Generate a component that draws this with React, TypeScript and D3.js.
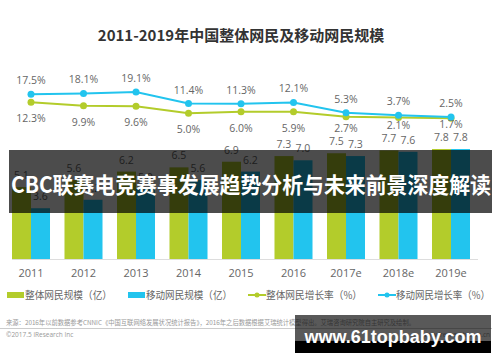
import React from "react";
import * as d3 from "d3";

const years = ["2011", "2012", "2013", "2014", "2015", "2016", "2017e", "2018e", "2019e"];
const totalUsers = [5.1, 5.6, 6.2, 6.5, 6.9, 7.3, 7.5, 7.7, 7.8];
const mobileUsers = [3.6, 4.2, 5.0, 5.6, 6.2, 7.0, 7.3, 7.6, 7.8];
const totalGrowth = [12.3, 9.9, 9.6, 5.0, 6.0, 5.9, 2.7, 2.1, 1.7];
const mobileGrowth = [17.5, 18.1, 19.1, 11.4, 11.3, 12.1, 5.3, 3.7, 2.5];
const legendLabels = ["整体网民规模（亿）", "移动网民规模（亿）", "整体网民增长率（%）", "移动网民增长率（%）"];
const title = "2011-2019年中国整体网民及移动网民规模";
const bannerText = "CBC联赛电竞赛事发展趋势分析与未来前景深度解读";
const sourceText = "来源：2016年以前数据参考CNNIC《中国互联网络发展状况统计报告》，2016年之后数据根据艾瑞统计模型得出。艾瑞咨询研究院自主研究及绘制。";
const copyright = "©2017.5 iResearch Inc";
const siteRight = "www.iresearch.com.cn";
const watermark = "www.61topbaby.com";

const GREEN = "#b3cc2b";
const BLUE = "#22c4ee";
const FONT = "'Open Sans', 'Noto Sans CJK SC', sans-serif";
const CJK = "'Noto Sans CJK SC', sans-serif";

export default function App() {
  const W = 500, H = 362;
  const x = d3.scaleBand<string>().domain(years).range([4.75, 477.25]).paddingInner(0.276).paddingOuter(0.138);
  const sub = d3.scaleBand<string>().domain(["total", "mobile"]).range([0, x.bandwidth()]);
  const yBar = d3.scaleLinear().domain([0, 10]).range([259, 118]);
  const yLine = d3.scaleLinear().domain([0, 20]).range([120.7, 90.6]);
  const cx = (i: number) => (x(years[i]) as number) + x.bandwidth() / 2;
  const line = d3.line<number>().x((_, i) => cx(i)).y((d) => yLine(d));

  const barTop = (i: number) => yBar(totalUsers[i]);

  return (
    <div style={{ position: "absolute", left: 0, top: 0 }}>
      <svg width={W} height={H} style={{ display: "block", background: "#fff" }}>
        <text x={241} y={41} textAnchor="middle" fontFamily={CJK} fontWeight="bold" fontSize={15} fill="#333">{title}</text>

        {/* bars */}
        {years.map((yr, i) => {
          const gx = x(yr) as number;
          return (
            <g key={yr}>
              <rect x={gx + (sub("total") as number)} y={yBar(totalUsers[i])} width={sub.bandwidth()} height={yBar(0) - yBar(totalUsers[i])} fill={GREEN} />
              <rect x={gx + (sub("mobile") as number)} y={yBar(mobileUsers[i])} width={sub.bandwidth()} height={yBar(0) - yBar(mobileUsers[i])} fill={BLUE} />
              <text x={gx + (sub("total") as number) + sub.bandwidth() / 2} y={yBar(totalUsers[i]) - 8} textAnchor="middle" fontFamily={FONT} fontSize={10.5} fill="#666">{totalUsers[i].toFixed(1)}</text>
              <text x={gx + (sub("mobile") as number) + sub.bandwidth() / 2} y={yBar(mobileUsers[i]) - 8} textAnchor="middle" fontFamily={FONT} fontSize={10.5} fill="#666">{mobileUsers[i].toFixed(1)}</text>
              <text x={gx + x.bandwidth() / 2} y={277} textAnchor="middle" fontFamily={FONT} fontSize={11} fill="#666">{yr}</text>
            </g>
          );
        })}
        <line x1={12} x2={478} y1={259.5} y2={259.5} stroke="#ddd" strokeWidth={1} />

        {/* lines */}
        <path d={line(totalGrowth) || ""} fill="none" stroke={GREEN} strokeWidth={2} />
        <path d={line(mobileGrowth) || ""} fill="none" stroke={BLUE} strokeWidth={2} />
        {totalGrowth.map((v, i) => (
          <g key={"tg" + i}>
            <circle cx={cx(i)} cy={yLine(v)} r={3.5} fill={GREEN} />
            <text x={cx(i)} y={Math.min(yLine(v) + 20, barTop(i) - 21)} textAnchor="middle" fontFamily={FONT} fontSize={10.5} fill="#666">{v.toFixed(1)}%</text>
          </g>
        ))}
        {mobileGrowth.map((v, i) => (
          <g key={"mg" + i}>
            <circle cx={cx(i)} cy={yLine(v)} r={3.5} fill={BLUE} />
            <text x={cx(i)} y={yLine(v) - 10} textAnchor="middle" fontFamily={FONT} fontSize={10.5} fill="#666">{v.toFixed(1)}%</text>
          </g>
        ))}

        {/* legend */}
        <g fontFamily={CJK} fontSize={10.5} fill="#666">
          <rect x={7} y={292} width={17} height={6} fill={GREEN} />
          <text x={25} y={299} textLength={87} lengthAdjust="spacingAndGlyphs">{legendLabels[0]}</text>
          <rect x={128} y={292} width={17} height={6} fill={BLUE} />
          <text x={146} y={299} textLength={86} lengthAdjust="spacingAndGlyphs">{legendLabels[1]}</text>
          <line x1={248} x2={266} y1={295} y2={295} stroke={GREEN} strokeWidth={2} />
          <circle cx={257} cy={295} r={2.5} fill={GREEN} />
          <text x={266} y={299} textLength={96} lengthAdjust="spacingAndGlyphs">{legendLabels[2]}</text>
          <line x1={378} x2={396} y1={295} y2={295} stroke={BLUE} strokeWidth={2} />
          <circle cx={387} cy={295} r={2.5} fill={BLUE} />
          <text x={396} y={299} textLength={94} lengthAdjust="spacingAndGlyphs">{legendLabels[3]}</text>
        </g>

        {/* source */}
        <text x={6} y={325} fontFamily={CJK} fontSize={6.3} fill="#999">{sourceText}</text>
        <line x1={0} x2={492} y1={328.5} y2={328.5} stroke="#ccc" strokeWidth={1} />
        <text x={6} y={337} fontFamily={FONT} fontSize={6.5} fill="#999">{copyright}</text>
        <text x={490} y={337} textAnchor="end" fontFamily={FONT} fontSize={6.5} fill="#999">{siteRight}</text>

        {/* overlay banner */}
        <rect x={9} y={150} width={483} height={63} fill="rgba(0,0,0,0.7)" />
        <text x={11} y={193} fontFamily={CJK} fontWeight="bold" fontSize={22} fill="#fff" textLength={480} lengthAdjust="spacingAndGlyphs">{bannerText}</text>

        {/* watermark box */}
        <rect x={295} y={315} width={196} height={26} fill="rgba(0,0,0,0.65)" />
        <rect x={295} y={341} width={196} height={12} fill="#000" />
        <text x={393} y={343} textAnchor="middle" fontFamily="'Liberation Sans', Arial, sans-serif" fontWeight="bold" fontSize={18} fill="#fff">{watermark}</text>
      </svg>
    </div>
  );
}
